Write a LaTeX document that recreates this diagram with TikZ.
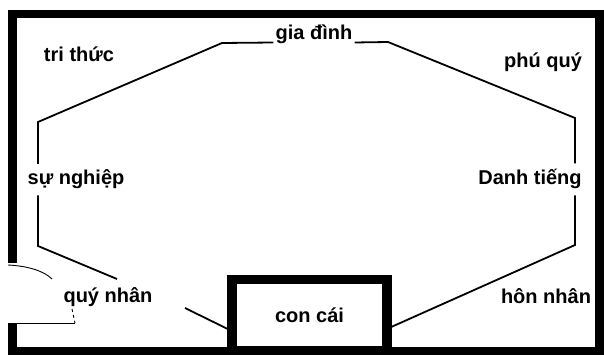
\documentclass[tikz,border=0pt]{standalone}
\usepackage{fontspec}
\setmainfont{Liberation Sans}
\usetikzlibrary{positioning}

\begin{document}
\begin{tikzpicture}[x=1pt,y=-1pt]
\tikzset{
  wall/.style={draw=black,line width=8.5pt,line join=miter},
  roombox/.style={draw=black,line width=9.5pt,minimum width=155pt,minimum height=71.5pt,inner sep=0pt,font=\bfseries\fontsize{20}{24}\selectfont},
  areatext/.style={anchor=base,inner xsep=2pt,inner ysep=6pt,font=\bfseries\fontsize{20}{24}\selectfont},
  outline/.style={draw=black,line width=1.8pt,line join=miter},
  doorline/.style={draw=black,line width=0.9pt}
}
\useasboundingbox (0,0) rectangle (604,355);
\draw[wall] (12.5,263) -- (12.5,14) -- (599.5,14) -- (599.5,360);
\draw[wall] (12.5,323) -- (12.5,360);
\draw[wall] (8,351) -- (600,351);
\node[roombox] (n_concai) at (309.5,315.25) {con cái};
\node[areatext] (n_trithuc) at (79,62) {tri thức};
\node[areatext] (n_giadinh) at (314,40) {gia đình};
\node[areatext] (n_phuquy) at (543,68) {phú quý};
\node[areatext] (n_sunghiep) at (76,185) {sự nghiệp};
\node[areatext] (n_danhtieng) at (530,185) {Danh tiếng};
\node[areatext] (n_quynhan) at (108,302) {quý nhân};
\node[areatext] (n_honnhan) at (546,303) {hôn nhân};
\coordinate (c_tl) at (222,43);
\coordinate (c_ml) at (38,122);
\coordinate (c_bl) at (38,246);
\coordinate (c_q1) at (117,279);
\coordinate (c_q2) at (185,308);
\coordinate (c_tr) at (388,42);
\coordinate (c_mr) at (575,118);
\coordinate (c_br) at (575,245);
\draw[outline] ([yshift=-2.5pt]n_giadinh.base west) -- (c_tl) -- (c_ml) -- (c_ml |- n_sunghiep.north);
\draw[outline] (c_ml |- n_sunghiep.south) -- (c_bl) -- (c_q1);
\draw[outline] (c_q2) -- ([yshift=-13.5pt]n_concai.west);
\draw[outline] ([yshift=-2.5pt]n_giadinh.base east) -- (c_tr) -- (c_mr) -- (c_mr |- n_danhtieng.north);
\draw[outline] (c_mr |- n_danhtieng.south) -- (c_br) -- ([yshift=-11.5pt]n_concai.east);
\draw[doorline] (8,265) .. controls (28,266) and (44,271) .. (52,279);
\draw[doorline] (15,323) -- (75,323);
\draw[doorline,dashed] (72,309) -- (75,323);
\end{tikzpicture}
\end{document}
